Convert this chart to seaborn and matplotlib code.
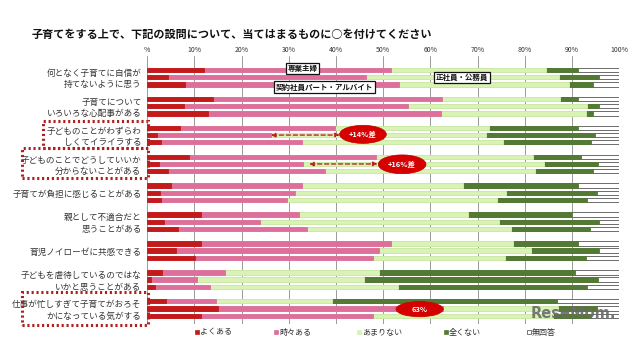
import numpy as np
import pandas as pd
import matplotlib
matplotlib.use("Agg")
import matplotlib.pyplot as plt
import seaborn as sns
from matplotlib.patches import Rectangle, Ellipse

# ---------------- data ----------------
title = "子育てをする上で、下記の設問について、当てはまるものに○を付けてください"
questions = [
    "何となく子育てに自信が\n持てないように思う",
    "子育てについて\nいろいろな心配事がある",
    "子どものことがわずらわ\nしくてイライラする",
    "子どものことでどうしていいか\n分からないことがある",
    "子育てが負担に感じることがある",
    "親として不適合だと\n思うことがある",
    "育児ノイローゼに共感できる",
    "子どもを虐待しているのではな\nいかと思うことがある",
    "仕事が忙しすぎて子育てがおろそ\nかになっている気がする",
]
groups = ["専業主婦", "正社員・公務員", "契約社員パート・アルバイト"]
categories = ["よくある", "時々ある", "あまりない", "全くない", "無回答"]

# three bars per question (order: 専業主婦, 正社員・公務員, 契約社員パート・アルバイト)
often = [12.0, 4.3, 8.0, 13.9, 7.7, 12.8, 7.0, 2.1, 2.9,
         8.9, 2.6, 4.5, 5.1, 2.8, 2.9, 11.4, 3.6, 6.5,
         11.4, 6.2, 10.1, 3.2, 0.9, 1.7, 4.0, 15.1, 11.3]
sometimes = [39.6, 42.1, 45.4, 48.5, 47.5, 49.4, 32.7, 24.1, 29.8,
             39.6, 30.4, 33.1, 27.6, 28.5, 26.7, 20.8, 20.2, 27.4,
             40.2, 42.8, 37.8, 13.3, 9.6, 11.6, 10.6, 47.6, 36.6]
rarely = [32.8, 40.8, 36.0, 25.1, 38.0, 30.8, 32.7, 45.5, 42.7,
          33.3, 51.0, 44.6, 34.1, 44.7, 44.6, 35.8, 50.7, 43.1,
          25.8, 32.2, 27.9, 32.7, 35.4, 39.8, 24.6, 24.4, 38.1]
never = [6.8, 8.4, 5.1, 3.7, 2.5, 1.5, 18.8, 23.2, 18.6,
         10.1, 11.4, 12.3, 24.4, 19.3, 19.0, 22.0, 21.2, 16.7,
         13.8, 14.5, 17.1, 41.4, 49.5, 40.1, 47.7, 8.2, 8.0]
no_answer = [8.8, 4.4, 5.5, 8.8, 4.3, 5.5, 8.8, 5.1, 6.0,
             8.1, 4.6, 5.5, 8.8, 4.7, 6.8, 10.0, 4.3, 6.3,
             8.8, 4.3, 7.1, 9.4, 4.6, 6.8, 13.1, 4.7, 6.0]

tick_values = [0, 10, 20, 30, 40, 50, 60, 70, 80, 90, 100]
tick_labels = ["%", "10%", "20%", "30%", "40%", "50%", "60%", "70%", "80%", "90%", "100%"]

# annotations
diff_labels = ["+14%差", "+16%差", "63%"]

colors = {"よくある": "#C41A1A", "時々ある": "#DE6F9C", "あまりない": "#D8F3B4",
          "全くない": "#527A33", "無回答": "#FFFFFF"}

# ---------------- build frame ----------------
rows, order = [], []
for q in range(len(questions)):
    for k in range(3):
        rows.append(f"q{q}_{k}")
        order.append(f"q{q}_{k}")
    order.append(f"sp{q}")

df = pd.DataFrame({"row": rows, "よくある": often, "時々ある": sometimes,
                   "あまりない": rarely, "全くない": never, "無回答": no_answer})
cum = df[categories].cumsum(axis=1)
cum["row"] = df["row"]

sns.set_theme(style="white")
plt.rcParams["font.family"] = ["Noto Sans CJK JP", "DejaVu Sans"]

W, H = 640, 341
fig = plt.figure(figsize=(6.4, 3.41), dpi=100)
x0px, x1px, y0px, y1px = 147.2, 619.3, 56, 324
ax = fig.add_axes([x0px / W, 1 - y1px / H, (x1px - x0px) / W, (y1px - y0px) / H])

for cat in reversed(categories):
    edge = "#555555" if cat == "無回答" else colors[cat]
    sns.barplot(data=cum, x=cat, y="row", order=order, orient="h",
                color=colors[cat], saturation=1, width=0.6, errorbar=None,
                edgecolor=edge, linewidth=0.6, ax=ax)

ax.set_xlim(0, 100)
ax.set_ylim(35.15, -1.94)
ax.set_yticks([])
ax.set_xlabel("")
ax.set_ylabel("")
ax.xaxis.tick_top()
ax.set_xticks(tick_values)
ax.set_xticklabels(tick_labels, fontsize=5, color="#333333")
ax.tick_params(axis="x", length=0, pad=1.5)
ax.grid(axis="x", color="#9a9a9a", linewidth=0.7)
ax.set_axisbelow(True)
for s in ax.spines.values():
    s.set_visible(False)

# question labels
for q, lab in enumerate(questions):
    ax.text(-1.2, 4 * q + 1 + 0.25, lab, ha="right", va="center", fontsize=6.2,
            linespacing=1.35, color="#333333", clip_on=False)

# title
fig.text(32 / W, 1 - 34 / H, title, ha="left", va="center", fontsize=8,
         fontweight="bold", color="#111111")

def fx(x):
    return x / W

def fy(y):
    return 1 - y / H

# group label boxes
box_kw = dict(boxstyle="square,pad=0.25", fc="white", ec="#111111", lw=0.9)
for txt, (cx, cy) in zip([groups[0], groups[1], groups[2]],
                         [(302.5, 68.5), (462, 77.5), (324.5, 87)]):
    fig.text(fx(cx), fy(cy), txt, ha="center", va="center", fontsize=5.4,
             fontweight="bold", color="#111111", bbox=box_kw, zorder=10)

# dotted red boxes around highlighted questions
dot_kw = dict(fill=False, ec="#B01E1E", lw=2.2, ls=(0, (0.7, 0.9)),
              transform=fig.transFigure, zorder=9)
for (bx0, by0, bx1, by1) in [(43, 121, 148, 148), (22, 148, 148, 178), (22, 292, 148, 325)]:
    fig.patches.append(Rectangle((fx(bx0), fy(by1)), (bx1 - bx0) / W, (by1 - by0) / H, **dot_kw))

# dashed arrows
arrow_kw = dict(arrowstyle="<|-|>", color="#C0231E", lw=1.0, ls=(0, (3, 2)),
                mutation_scale=6, shrinkA=0, shrinkB=0)
ax.annotate("", xy=(40.8, 9), xytext=(26.2, 9), arrowprops=arrow_kw, zorder=11)
ax.annotate("", xy=(48.8, 13), xytext=(34.3, 13), arrowprops=arrow_kw, zorder=11)

# red ellipses
for lab, (cx, cy, w, h) in zip(diff_labels, [(45.7, 8.9, 9.9, 2.5), (54.0, 13.05, 10.1, 2.6),
                                             (57.7, 33.1, 10.0, 2.1)]):
    ax.add_patch(Ellipse((cx, cy), w, h, fc="#D60000", ec="#C00000", lw=0.5, zorder=12,
                         clip_on=False))
    ax.text(cx, cy, lab, ha="center", va="center", fontsize=5.4, fontweight="bold",
            color="white", zorder=13)

# legend
leg_x = [195, 274, 357, 444, 527]
for cat, lx in zip(categories, leg_x):
    ec = "#444444" if cat == "無回答" else colors[cat]
    fig.patches.append(Rectangle((fx(lx), fy(334)), 4 / W, 4 / H, fc=colors[cat], ec=ec,
                                 lw=0.5, transform=fig.transFigure, zorder=10))
    fig.text(fx(lx + 5), fy(332), cat, ha="left", va="center", fontsize=5.8, color="#333333")

# watermark
fig.text(fx(531), fy(314), "ReseMom.", ha="left", va="center", fontsize=10.5,
         fontweight="bold", color="#6a6a6a", family="DejaVu Sans", alpha=0.9, zorder=20)

fig.savefig("out.png", dpi=100, facecolor="white")
